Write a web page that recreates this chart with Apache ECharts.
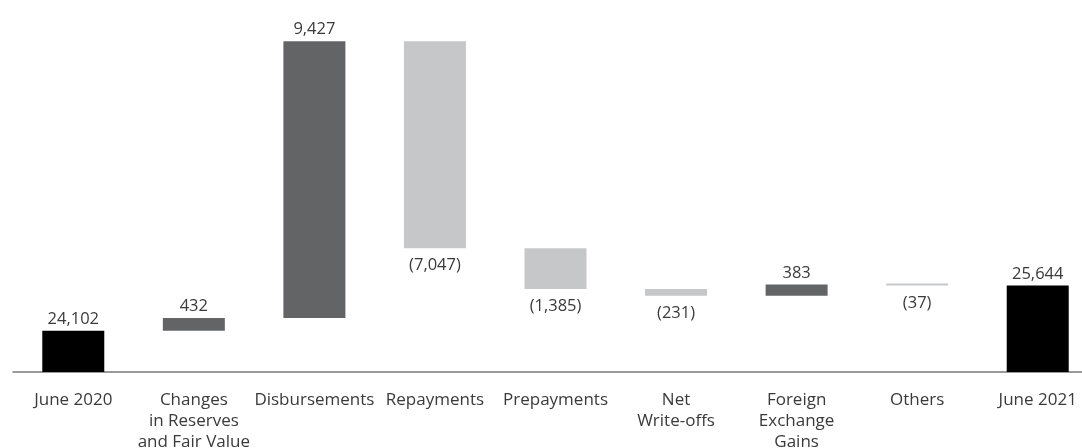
<!DOCTYPE html>
<html>
<head>
<meta charset="utf-8">
<script src="https://cdn.jsdelivr.net/npm/echarts@6/dist/echarts.min.js"></script>
<style>
  html, body { margin: 0; padding: 0; background: #fff; }
  #chart { width: 1082px; height: 448px; }
</style>
</head>
<body>
<div id="chart"></div>
<script>
// Loan portfolio movement, June 2020 to June 2021 (USD millions)
const categories = [
  'June 2020',
  'Changes\nin Reserves\nand Fair Value',
  'Disbursements',
  'Repayments',
  'Prepayments',
  'Net\nWrite-offs',
  'Foreign\nExchange\nGains',
  'Others',
  'June 2021'
];
// 'total' bars start from the axis; 'delta' bars float on the running sum
const kinds = ['total', 'delta', 'delta', 'delta', 'delta', 'delta', 'delta', 'delta', 'total'];
const values = [24102, 432, 9427, -7047, -1385, -231, 383, -37, 25644];

const colorTotal = '#000000';
const colorUp = '#636466';
const colorDown = '#c6c7c9';

// Build the invisible base and the visible segment for each step
const baseData = [];
const barData = [];
let running = 0;
values.forEach((v, i) => {
  if (kinds[i] === 'total') {
    running = v;
    baseData.push(0);
    barData.push({ value: v, raw: v, itemStyle: { color: colorTotal }, label: { position: 'top', distance: 3 } });
  } else {
    const start = running;
    const end = running + v;
    running = end;
    baseData.push(Math.min(start, end));
    barData.push({
      value: Math.abs(v),
      raw: v,
      itemStyle: { color: v >= 0 ? colorUp : colorDown },
      label: v >= 0 ? { position: 'top', distance: 3 } : { position: 'bottom', distance: 9 }
    });
  }
});

function fmt(v) {
  const s = Math.abs(v).toLocaleString('en-US');
  return v < 0 ? '(' + s + ')' : s;
}

const chart = echarts.init(document.getElementById('chart'), null, { renderer: 'canvas' });
chart.setOption({
  animation: false,
  textStyle: { fontFamily: 'Open Sans' },
  grid: { left: 13, top: 40, bottom: 76, right: -16, containLabel: false, outerBoundsMode: 'none' },
  xAxis: {
    type: 'category',
    data: categories,
    axisTick: { show: false },
    axisLine: { lineStyle: { color: '#7a7a7a', width: 1.5 } },
    axisLabel: {
      interval: 0,
      margin: 18,
      color: '#3a3a3a',
      fontSize: 17,
      lineHeight: 21,
      fontFamily: 'Open Sans'
    }
  },
  yAxis: {
    type: 'value',
    min: 22700,
    max: 34000,
    show: false,
    splitLine: { show: false }
  },
  series: [
    {
      type: 'bar',
      stack: 'wf',
      data: baseData,
      barWidth: 62,
      itemStyle: { color: 'transparent' },
      emphasis: { disabled: true },
      silent: true
    },
    {
      type: 'bar',
      stack: 'wf',
      data: barData,
      barWidth: 62,
      barMinHeight: 2,
      label: {
        show: true,
        color: '#3a3a3a',
        fontSize: 16.5,
        fontFamily: 'Open Sans',
        formatter: p => fmt(p.data.raw)
      }
    }
  ]
});
</script>
</body>
</html>
